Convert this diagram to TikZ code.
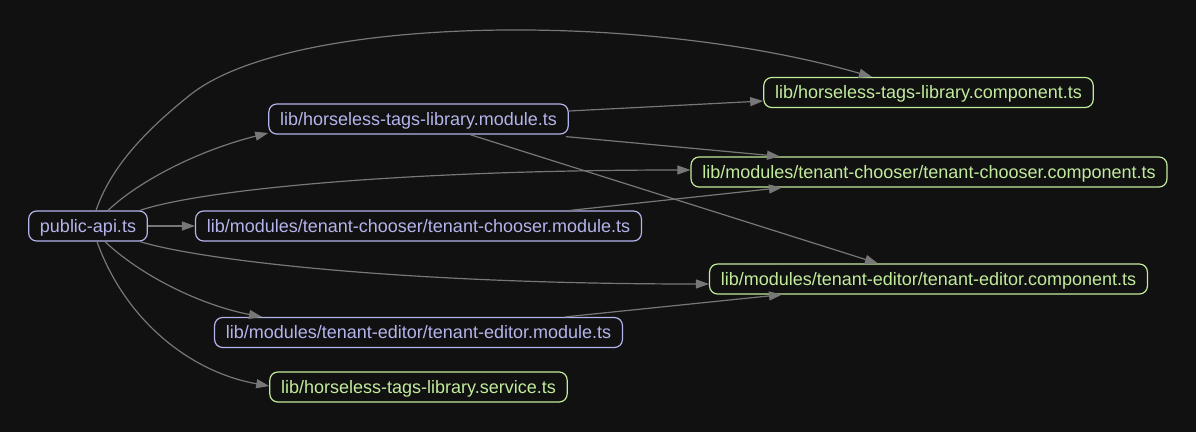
\documentclass[tikz,border=0pt]{standalone}
\usepackage{fontspec}
\setmainfont{Liberation Sans}
\usetikzlibrary{arrows.meta}
\definecolor{bg}{HTML}{111111}
\definecolor{modc}{HTML}{B4B4EC}
\definecolor{cmpc}{HTML}{C2EC9C}
\definecolor{edgec}{HTML}{777777}
\begin{document}
\begin{tikzpicture}[x=1pt,y=-1pt,
  box/.style={draw, rounded corners=8pt, line width=1.2pt, minimum height=30pt,
    inner xsep=11.3pt, inner ysep=0pt, text height=14pt, text depth=2pt,
    font=\fontsize{18}{20}\selectfont},
  modbox/.style={box, draw=modc, text=modc},
  cmpbox/.style={box, draw=cmpc, text=cmpc},
  conn/.style={draw=edgec, line width=1.2pt, -{Triangle[length=13pt,width=9pt]}, edgec}]
\fill[bg] (0,0) rectangle (1196,432);
\useasboundingbox (0,0) rectangle (1196,432);

\node[modbox] (pub) at (88,226) {public-api.ts};
\node[modbox] (mod) at (418.5,119) {lib/horseless-tags-library.module.ts};
\node[modbox] (chm) at (418.5,226) {lib/modules/tenant-chooser/tenant-chooser.module.ts};
\node[modbox] (edm) at (418.5,332.5) {lib/modules/tenant-editor/tenant-editor.module.ts};
\node[cmpbox] (svc) at (418.5,387) {lib/horseless-tags-library.service.ts};
\node[cmpbox] (cmp) at (928.5,92.5) {lib/horseless-tags-library.component.ts};
\node[cmpbox] (chc) at (929,172) {lib/modules/tenant-chooser/tenant-chooser.component.ts};
\node[cmpbox] (edc) at (928.5,279) {lib/modules/tenant-editor/tenant-editor.component.ts};

% public-api edges
\draw[conn] ([xshift=8pt]pub.north) .. controls (110,170) and (140,135) .. (190,95)
  .. controls (290,15) and (640,10) .. ([xshift=-56.5pt]cmp.north);
\draw[conn] ([xshift=20pt]pub.north) .. controls (140,180) and (200,150) .. ([yshift=-14pt]mod.west);
\draw[conn] ([xshift=52pt]pub.north) .. controls (200,190) and (400,170) .. ([yshift=2pt]chc.west);
\draw[conn] (pub.east) -- (chm.west);
\draw[conn] ([xshift=52pt]pub.south) .. controls (200,260) and (400,284) .. ([yshift=-5pt]edc.west);
\draw[conn] ([xshift=17pt]pub.south) .. controls (140,275) and (200,305) .. ([xshift=-156.5pt]edm.north);
\draw[conn] ([xshift=9pt]pub.south) .. controls (125,320) and (190,372) .. ([yshift=1pt]svc.west);

% module edges
\draw[conn] ([yshift=8pt]mod.east) -- ([yshift=-8.5pt]cmp.west);
\draw[conn] ([xshift=-3pt,yshift=-2pt]mod.south east) -- ([xshift=-149pt]chc.north);
\draw[conn] ([xshift=51.5pt]mod.south) -- ([xshift=-50.5pt]edc.north);
\draw[conn] ([xshift=151.5pt]chm.north) -- ([xshift=-147pt]chc.south);
\draw[conn] ([xshift=146.5pt]edm.north) -- ([xshift=-146.5pt]edc.south);
\end{tikzpicture}
\end{document}
